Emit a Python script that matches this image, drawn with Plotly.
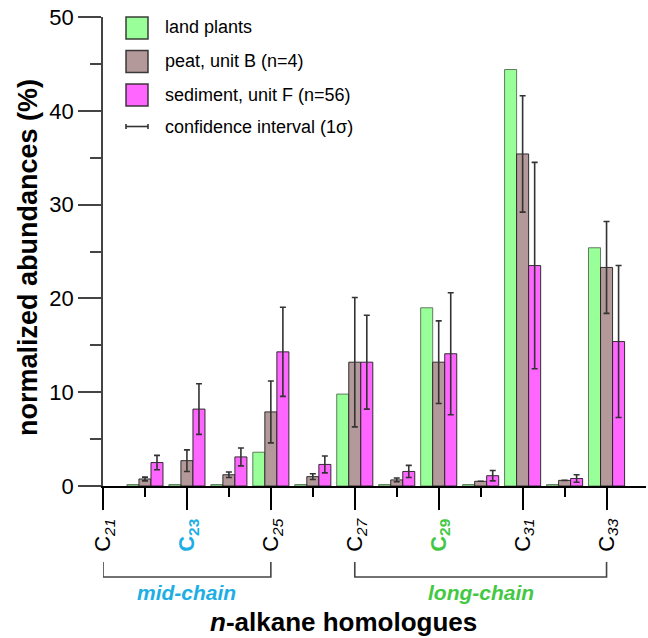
import plotly.graph_objects as go

# n-alkane chain lengths shown on the x axis
carbons = [22, 23, 24, 25, 26, 27, 28, 29, 30, 31, 32, 33]

# normalized abundances (%) per homologue
land_plants = [0.15, 0.15, 0.15, 3.6, 0.15, 9.8, 0.15, 19.0, 0.15, 44.4, 0.15, 25.4]
peat_b = [0.75, 2.7, 1.2, 7.9, 1.0, 13.2, 0.65, 13.2, 0.5, 35.4, 0.6, 23.3]
peat_b_err = [0.2, 1.15, 0.3, 3.3, 0.3, 6.9, 0.2, 4.4, 0.0, 6.2, 0.0, 4.9]
sediment_f = [2.5, 8.2, 3.1, 14.3, 2.3, 13.2, 1.55, 14.1, 1.1, 23.5, 0.8, 15.4]
sediment_f_err = [0.77, 2.7, 0.95, 4.75, 0.9, 5.0, 0.65, 6.5, 0.55, 11.0, 0.4, 8.1]

# labelled homologues on the x axis
tick_carbons = [21, 23, 25, 27, 29, 31, 33]
tick_colors = ["black", "#1CAEE4", "black", "black", "#44C844", "black", "black"]
tick_bold = [False, True, False, False, True, False, False]

series_names = ["land plants", "peat, unit B (n=4)", "sediment, unit F (n=56)",
                "confidence interval (1σ)"]
series_colors = ["#99FF99", "#B39999", "#FF66FF"]

FONT = "Liberation Sans, Arial, Helvetica, sans-serif"
W, H = 648, 638
L, R, T, B = 103, 2, 17, 152


def fx(px):
    return (px - L) / (W - L - R)


def fy(py):
    return (H - B - py) / (H - B - T)


def tick_text(n, color, bold):
    if bold:
        return f"<span style='color:{color}'><b>C<sub>{n}</sub></b></span>"
    return f"<span style='color:{color}'>C<sub><i>{n}</i></sub></span>"


fig = go.Figure()
err_style = dict(type="data", thickness=1.6, width=3, color="#333333")
bar_line = dict(color="rgba(30,30,30,0.9)", width=1)

fig.add_trace(go.Bar(x=carbons, y=land_plants, name=series_names[0],
                     marker=dict(color=series_colors[0], line=dict(color="rgba(70,90,70,0.8)", width=1))))
fig.add_trace(go.Bar(x=carbons, y=peat_b, name=series_names[1],
                     marker=dict(color=series_colors[1], line=bar_line),
                     error_y=dict(array=peat_b_err, **err_style)))
fig.add_trace(go.Bar(x=carbons, y=sediment_f, name=series_names[2],
                     marker=dict(color=series_colors[2], line=bar_line),
                     error_y=dict(array=sediment_f_err, **err_style)))

shapes = []
annotations = []

# legend swatches
sw_top = [17, 50.5, 84]
for i in range(3):
    shapes.append(dict(type="rect", xref="paper", yref="paper",
                       x0=fx(126), x1=fx(148), y0=fy(sw_top[i] + 22), y1=fy(sw_top[i]),
                       fillcolor=series_colors[i],
                       line=dict(color="rgba(40,40,40,0.9)", width=1.5)))
# legend error-bar symbol
ey = 126.5
shapes.append(dict(type="line", xref="paper", yref="paper",
                   x0=fx(126), x1=fx(148), y0=fy(ey), y1=fy(ey),
                   line=dict(color="#333333", width=1.6)))
for xx in (126, 148):
    shapes.append(dict(type="line", xref="paper", yref="paper",
                       x0=fx(xx), x1=fx(xx), y0=fy(ey - 2.5), y1=fy(ey + 2.5),
                       line=dict(color="#333333", width=1.6)))

legend_y = [27.5, 61, 94.5, 127]
for name, yy in zip(series_names, legend_y):
    annotations.append(dict(text=name, xref="paper", yref="paper",
                            x=fx(163), y=fy(yy), xanchor="left", yanchor="middle",
                            showarrow=False, font=dict(family=FONT, size=18, color="black")))

# chain-length brackets
def bracket(c0, c1):
    return dict(type="path", xref="x", yref="paper",
                path=f"M {c0},{fy(562)} L {c0},{fy(577)} L {c1},{fy(577)} L {c1},{fy(562)}",
                line=dict(color="#444444", width=1.6))


shapes.append(bracket(21, 25))
shapes.append(bracket(27, 33))
annotations.append(dict(text="<b><i>mid-chain</i></b>", xref="x", yref="paper",
                        x=23, y=fy(592), showarrow=False, xanchor="center", yanchor="middle",
                        font=dict(family=FONT, size=21, color="#1CAEE4")))
annotations.append(dict(text="<b><i>long-chain</i></b>", xref="x", yref="paper",
                        x=30, y=fy(592), showarrow=False, xanchor="center", yanchor="middle",
                        font=dict(family=FONT, size=21, color="#44C844")))

# axis titles
annotations.append(dict(text="<b><i>n</i>-alkane homologues</b>", xref="paper", yref="paper",
                        x=fx(343), y=fy(622), showarrow=False, xanchor="center", yanchor="middle",
                        font=dict(family=FONT, size=26, color="black")))
annotations.append(dict(text="<b>normalized abundances (%)</b>", xref="paper", yref="paper",
                        x=fx(28), y=fy(258), showarrow=False, xanchor="center", yanchor="middle",
                        textangle=-90, font=dict(family=FONT, size=27, color="black")))

fig.update_layout(
    width=W, height=H,
    margin=dict(l=L, r=R, t=T, b=B, pad=0),
    paper_bgcolor="white", plot_bgcolor="white",
    barmode="group", bargap=0.14, bargroupgap=0,
    showlegend=False,
    font=dict(family=FONT, size=22, color="black"),
    shapes=shapes, annotations=annotations,
)
fig.update_xaxes(
    range=[21, 33.94], showgrid=False, zeroline=False,
    showline=True, linecolor="black", linewidth=2,
    tickmode="array", tickvals=tick_carbons,
    ticktext=[tick_text(n, c, b) for n, c, b in zip(tick_carbons, tick_colors, tick_bold)],
    ticks="outside", ticklen=22, tickwidth=2, tickcolor="black",
    tickangle=-90, tickfont=dict(family=FONT, size=22),
    minor=dict(dtick=1, tick0=21, ticks="outside", ticklen=9, tickwidth=2, tickcolor="black"),
)
fig.update_yaxes(
    range=[0, 50], showgrid=False, zeroline=False,
    showline=True, linecolor="#444444", linewidth=1.6,
    tickmode="linear", tick0=0, dtick=10,
    ticks="outside", ticklen=23, tickwidth=1.6, tickcolor="#444444",
    tickfont=dict(family=FONT, size=22),
    minor=dict(dtick=5, ticks="outside", ticklen=11, tickwidth=1.6, tickcolor="#444444"),
)

fig.write_html("out.html")
